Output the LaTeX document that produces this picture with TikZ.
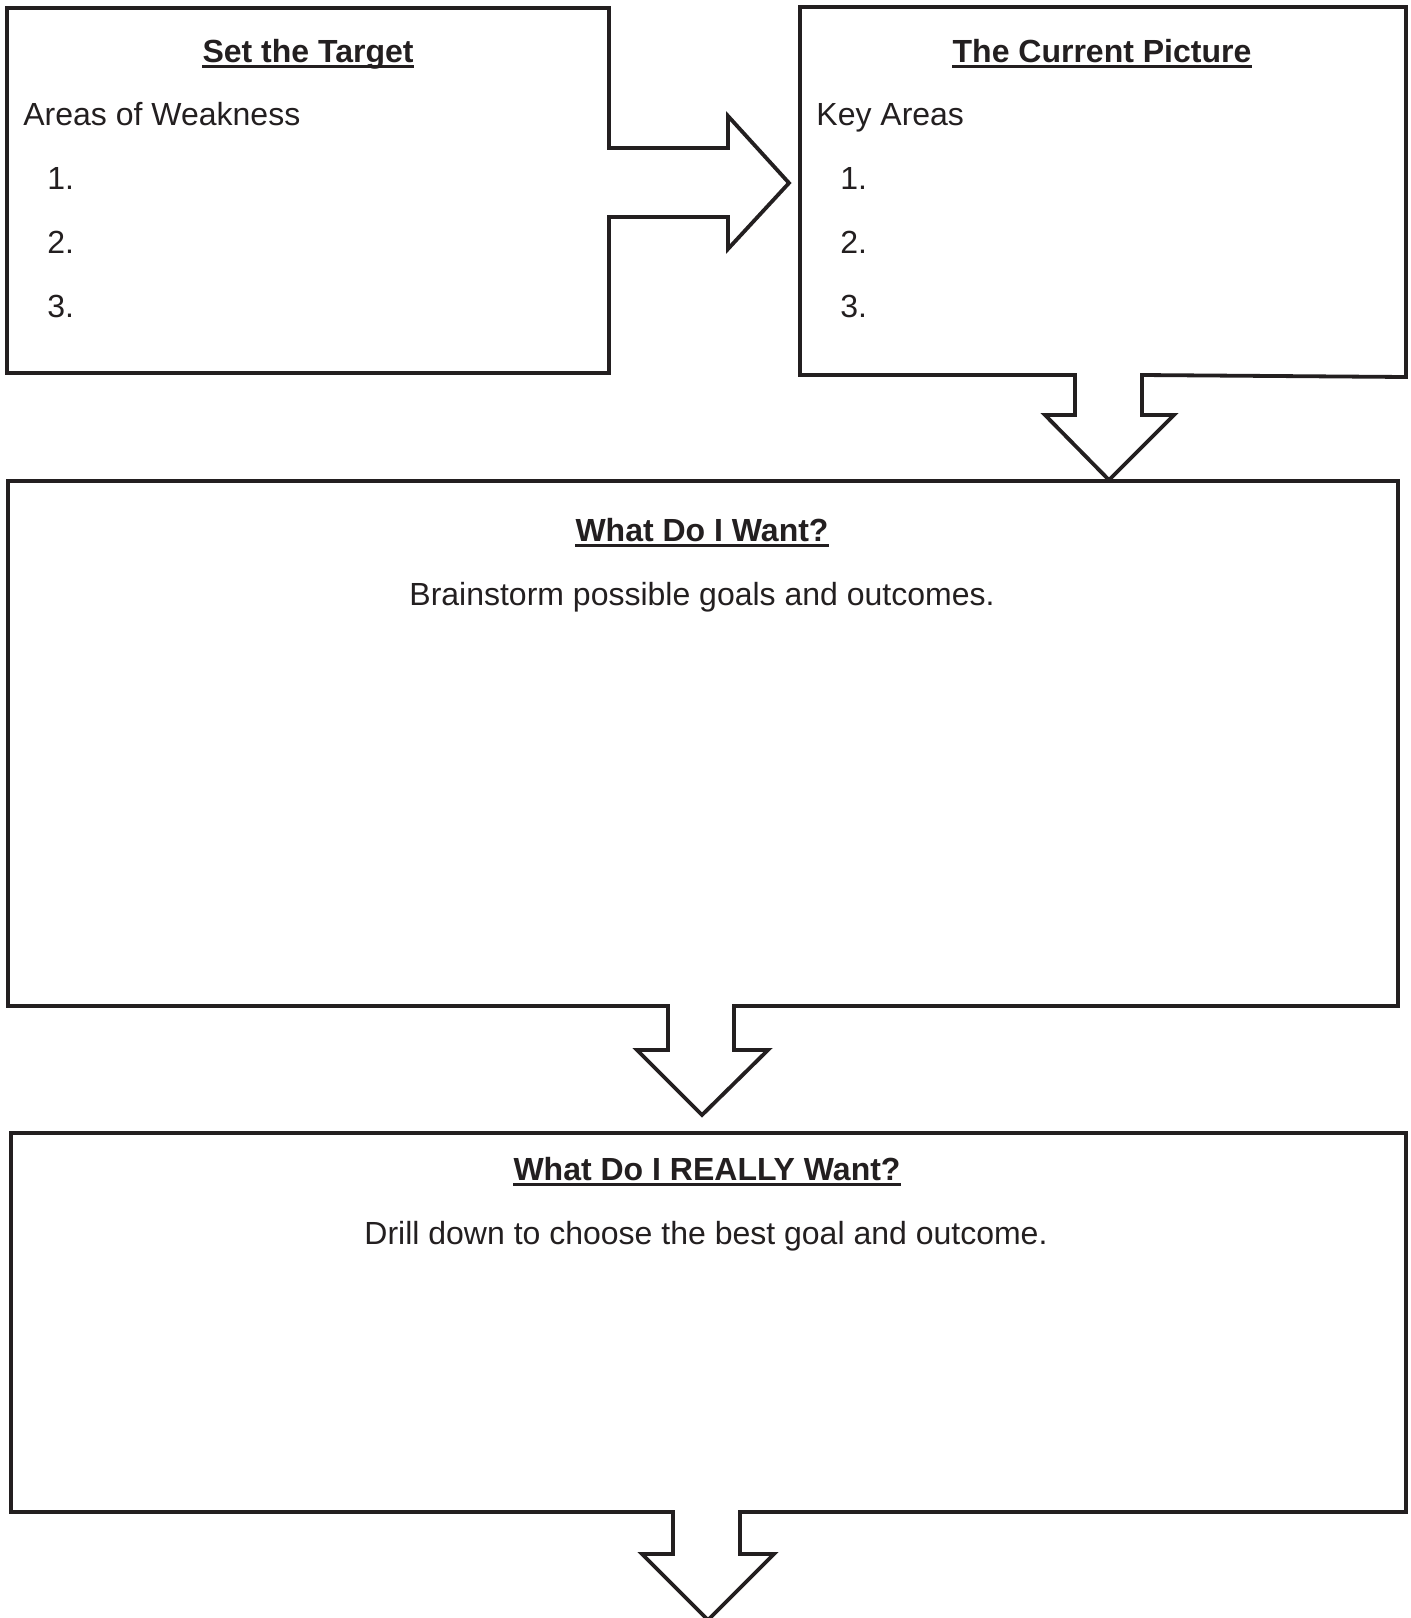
\documentclass[tikz,border=0pt]{standalone}
\usepackage{fontspec}
\setmainfont{Liberation Sans}
\definecolor{ink}{HTML}{231F20}
\begin{document}
\begin{tikzpicture}[x=0.5pt,y=-0.5pt,
  outline/.style={draw=ink,line width=1.9pt,line join=miter,fill=white},
  txt/.style={inner sep=0pt,font=\fontsize{16}{19}\selectfont,text=ink},
  ttl/.style={txt,font=\fontsize{16}{19}\selectfont\bfseries,anchor=base},
  lft/.style={txt,anchor=base west},
  ctr/.style={txt,anchor=base},
  uline/.style={draw=ink,line width=1.2pt}]
\useasboundingbox (0,0) rectangle (1411,1618);
\fill[white] (0,0) rectangle (1411,1618);

% Box 1 with right arrow
\draw[outline] (7,8) -- (609,8) -- (609,148) -- (728,148) -- (728,116) -- (789,183)
  -- (728,249) -- (728,217) -- (609,217) -- (609,373) -- (7,373) -- cycle;
% Box 2 with down arrow
\draw[outline] (800,7) -- (1406,7) -- (1406,377) -- (1142,375) -- (1142,415) -- (1174,415)
  -- (1109,480) -- (1045,415) -- (1075,415) -- (1075,375) -- (800,375) -- cycle;
% Box 3 with down arrow
\draw[outline] (8,481) -- (1398,481) -- (1398,1006) -- (734,1006) -- (734,1050) -- (768,1050)
  -- (702,1115) -- (637,1050) -- (668,1050) -- (668,1006) -- (8,1006) -- cycle;
% Box 4 with down arrow
\draw[outline] (11,1133) -- (1406,1133) -- (1406,1512) -- (740,1512) -- (740,1554) -- (774,1554)
  -- (708,1620) -- (642,1554) -- (673,1554) -- (673,1512) -- (11,1512) -- cycle;

% Box 1 texts
\node[ttl] (t1) at (308,62) {Set the Target};
\draw[uline] ([yshift=-2.3pt]t1.base west) -- ([yshift=-2.3pt]t1.base east);
\node[lft] (a1) at (23,125) {Areas of Weakness};
\node[lft] (n11) at (47,189) {1.};
\node[lft] (n12) at (47,253) {2.};
\node[lft] (n13) at (47,317) {3.};

% Box 2 texts
\node[ttl] (t2) at (1102,62) {The Current Picture};
\draw[uline] ([yshift=-2.3pt]t2.base west) -- ([yshift=-2.3pt]t2.base east);
\node[lft] (a2) at (816,125) {Key Areas};
\node[lft] (n21) at (840,189) {1.};
\node[lft] (n22) at (840,253) {2.};
\node[lft] (n23) at (840,317) {3.};

% Box 3 texts
\node[ttl] (t3) at (702,541) {What Do I Want?};
\draw[uline] ([yshift=-2.3pt]t3.base west) -- ([yshift=-2.3pt]t3.base east);
\node[ctr] (b3) at (702,605) {Brainstorm possible goals and outcomes.};

% Box 4 texts
\node[ttl] (t4) at (707,1180) {What Do I REALLY Want?};
\draw[uline] ([yshift=-2.3pt]t4.base west) -- ([yshift=-2.3pt]t4.base east);
\node[ctr] (b4) at (706,1244) {Drill down to choose the best goal and outcome.};
\end{tikzpicture}
\end{document}
